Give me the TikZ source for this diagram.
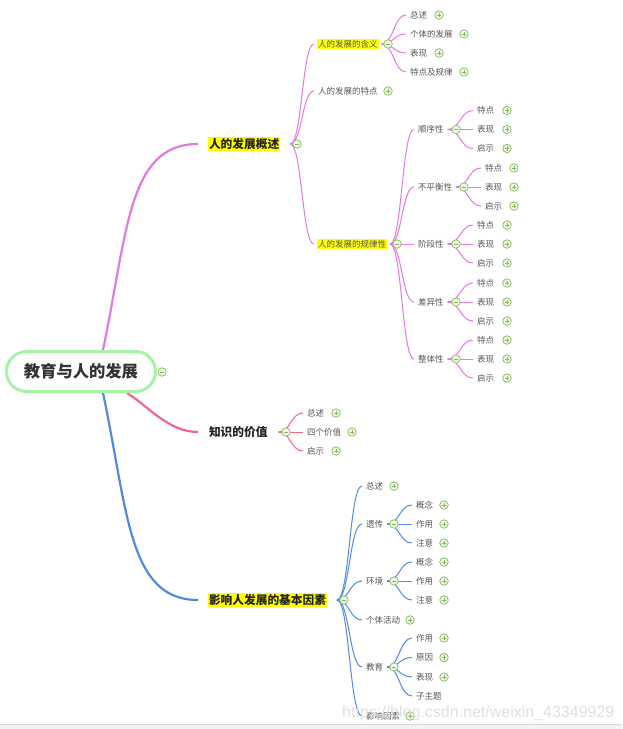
\documentclass[tikz,border=0pt]{standalone}
\usepackage{fontspec}
\setmainfont{Noto Sans CJK SC}
\newfontfamily\wmfont{Liberation Sans}
\usetikzlibrary{calc}
\definecolor{vio}{HTML}{E07BE0}
\definecolor{pnk}{HTML}{F2648F}
\definecolor{blu}{HTML}{528AE0}
\definecolor{rootg}{HTML}{A6F2A6}
\definecolor{txtR}{HTML}{333333}
\definecolor{txtA}{HTML}{222222}
\definecolor{txtB}{HTML}{555555}
\definecolor{hlyel}{HTML}{FFFF00}
\definecolor{tgreen}{HTML}{86B95A}
\definecolor{tfill}{HTML}{EEF7E4}
\pgfdeclarelayer{bg}
\pgfsetlayers{bg,main}
\newcommand\brconn[3]{\begin{pgfonlayer}{bg}\draw[#1] let \p1=(#2.east), \p2=(#3.west) in (\p1) .. controls ({(\x1+\x2)/2},\y1) and ({(\x1+\x2)/2},\y2) .. (\p2);\end{pgfonlayer}}
\tikzset{
  lone/.style={font=\fontsize{11.7}{13}\selectfont\bfseries, text=txtA, anchor=west, inner xsep=1pt, inner ysep=1pt, outer xsep=10pt, outer ysep=0pt},
  ltwo/.style={font=\fontsize{8.5}{10}\selectfont, text=txtB, anchor=west, inner xsep=1pt, inner ysep=1pt, outer xsep=3pt, outer ysep=0pt},
  hl/.style={fill=hlyel},
  tog/.style={circle, draw=tgreen, fill=tfill, line width=0.7pt, minimum size=8.5pt, inner sep=0pt},
  collapse/.style={tog, path picture={\draw[tgreen, line width=0.8pt] ([xshift=-2.3pt]path picture bounding box.center) -- ([xshift=2.3pt]path picture bounding box.center);}},
  expand/.style={tog, path picture={\draw[tgreen, line width=0.8pt] ([xshift=-2.3pt]path picture bounding box.center) -- ([xshift=2.3pt]path picture bounding box.center) ([yshift=-2.3pt]path picture bounding box.center) -- ([yshift=2.3pt]path picture bounding box.center);}},
  thickl/.style={line width=2.2pt},
  thinl/.style={line width=1pt}
}
\begin{document}
\begin{tikzpicture}[x=1pt,y=-1pt]
\useasboundingbox (0,0) rectangle (622,729);
\begin{pgfonlayer}{bg}
\fill[white] (0,0) rectangle (622,729);
\end{pgfonlayer}

% root
\node[draw=rootg, line width=3pt, rounded corners=20pt, minimum width=149pt, minimum height=40pt, fill=white, font=\fontsize{16.3}{18}\selectfont\bfseries, text=txtR, inner sep=0pt] (root) at (81,371.5) {教育与人的发展};
\node[collapse] (rc) at (162,372) {};

% level 1
\node[lone,hl] (A) at (198,144) {人的发展概述};
\node[lone] (B) at (198,432) {知识的价值};
\node[lone,hl] (C) at (198,600) {影响人发展的基本因素};
\node[collapse] (Ac) at (297,144) {};
\node[collapse] (Bc) at (286,432) {};
\node[collapse] (Cc) at (344,600) {};

\begin{pgfonlayer}{bg}
\draw[vio,thickl] ([xshift=22pt]root.north) .. controls +(25,-120) and +(-70,0) .. (A.west);
\draw[pnk,thickl] ([xshift=46pt]root.south) .. controls +(20,12) and +(-30,0) .. (B.west);
\draw[blu,thickl] ([xshift=22pt]root.south) .. controls +(25,118) and +(-70,0) .. (C.west);
\end{pgfonlayer}

% ---------- branch A ----------
\node[ltwo,hl] (A1) at (314,44) {人的发展的含义};
\node[ltwo] (A2) at (314,91) {人的发展的特点};
\node[ltwo,hl] (A3) at (314,244) {人的发展的规律性};
\node[collapse] (A1c) at (388,44) {};
\node[expand] (A2c) at (388,91) {};
\node[collapse] (A3c) at (397,244) {};
\brconn{vio,thinl}{A}{A1}
\brconn{vio,thinl}{A}{A2}
\brconn{vio,thinl}{A}{A3}

\node[ltwo] (A11) at (406,15) {总述};
\node[ltwo] (A12) at (406,34) {个体的发展};
\node[ltwo] (A13) at (406,53) {表现};
\node[ltwo] (A14) at (406,72) {特点及规律};
\node[expand] (A11c) at (439,15) {};
\node[expand] (A12c) at (464,34) {};
\node[expand] (A13c) at (439,53) {};
\node[expand] (A14c) at (464,72) {};
\foreach \q in {A11,A12,A13,A14}{\brconn{vio,thinl}{A1}{\q}}

\node[ltwo] (S1) at (414,129.5) {顺序性};
\node[ltwo] (S2) at (414,187) {不平衡性};
\node[ltwo] (S3) at (414,244) {阶段性};
\node[ltwo] (S4) at (414,302) {差异性};
\node[ltwo] (S5) at (414,359) {整体性};
\node[collapse] (S1c) at (456,129.5) {};
\node[collapse] (S2c) at (464,187) {};
\node[collapse] (S3c) at (456,244) {};
\node[collapse] (S4c) at (456,302) {};
\node[collapse] (S5c) at (456,359) {};
\foreach \q in {S1,S2,S3,S4,S5}{\brconn{vio,thinl}{A3}{\q}}

\foreach \q/\yy/\tx/\px in {S1/129.5/477/507, S2/187/485/514, S3/244/477/507, S4/302/477/507, S5/359/477/507}{
  \node[ltwo] (\q a) at (\tx-4,\yy-19) {特点};
  \node[ltwo] (\q b) at (\tx-4,\yy) {表现};
  \node[ltwo] (\q c) at (\tx-4,\yy+19) {启示};
  \node[expand] (\q ax) at (\px,\yy-19) {};
  \node[expand] (\q bx) at (\px,\yy) {};
  \node[expand] (\q cx) at (\px,\yy+19) {};
  \brconn{vio,thinl}{\q}{\q a}
  \brconn{vio,thinl}{\q}{\q b}
  \brconn{vio,thinl}{\q}{\q c}
}

% ---------- branch B ----------
\node[ltwo] (B1) at (303,413) {总述};
\node[ltwo] (B2) at (303,432) {四个价值};
\node[ltwo] (B3) at (303,451) {启示};
\node[expand] (B1c) at (336,413) {};
\node[expand] (B2c) at (352,432) {};
\node[expand] (B3c) at (336,451) {};
\foreach \q in {B1,B2,B3}{\brconn{pnk,thinl}{B}{\q}}

% ---------- branch C ----------
\node[ltwo] (C1) at (362,486) {总述};
\node[ltwo] (C2) at (362,524) {遗传};
\node[ltwo] (C3) at (362,581) {环境};
\node[ltwo] (C4) at (362,620) {个体活动};
\node[ltwo] (C5) at (362,667) {教育};
\node[ltwo] (C6) at (362,716) {影响因素};
\node[expand] (C1c) at (394,486) {};
\node[collapse] (C2c) at (394,524) {};
\node[collapse] (C3c) at (394,581) {};
\node[expand] (C4c) at (410,620) {};
\node[collapse] (C5c) at (394,667) {};
\node[expand] (C6c) at (410,716) {};
\foreach \q in {C1,C2,C3,C4,C5,C6}{\brconn{blu,thinl}{C}{\q}}

\node[ltwo] (C21) at (412,505) {概念};
\node[ltwo] (C22) at (412,524) {作用};
\node[ltwo] (C23) at (412,543) {注意};
\node[ltwo] (C31) at (412,562) {概念};
\node[ltwo] (C32) at (412,581) {作用};
\node[ltwo] (C33) at (412,600) {注意};
\node[ltwo] (C51) at (412,638) {作用};
\node[ltwo] (C52) at (412,657.5) {原因};
\node[ltwo] (C53) at (412,677) {表现};
\node[ltwo] (C54) at (412,696) {子主题};
\foreach \q in {C21,C22,C23,C31,C32,C33,C51,C52,C53}{\node[expand] (\q x) at (444,0|-\q) {};}
\foreach \q in {C21,C22,C23}{\brconn{blu,thinl}{C2}{\q}}
\foreach \q in {C31,C32,C33}{\brconn{blu,thinl}{C3}{\q}}
\foreach \q in {C51,C52,C53,C54}{\brconn{blu,thinl}{C5}{\q}}

% bottom bar and watermark
\fill[black!5] (0,724.5) rectangle (622,729);
\draw[black!15, line width=1pt] (0,724.5) -- (622,724.5);
\node[font=\wmfont\fontsize{16}{18}\selectfont, text=black!14, text opacity=0.85, anchor=base west, inner sep=0pt] (wm) at (342,717) {https://blog.csdn.net/weixin\_43349929};
\end{tikzpicture}
\end{document}
